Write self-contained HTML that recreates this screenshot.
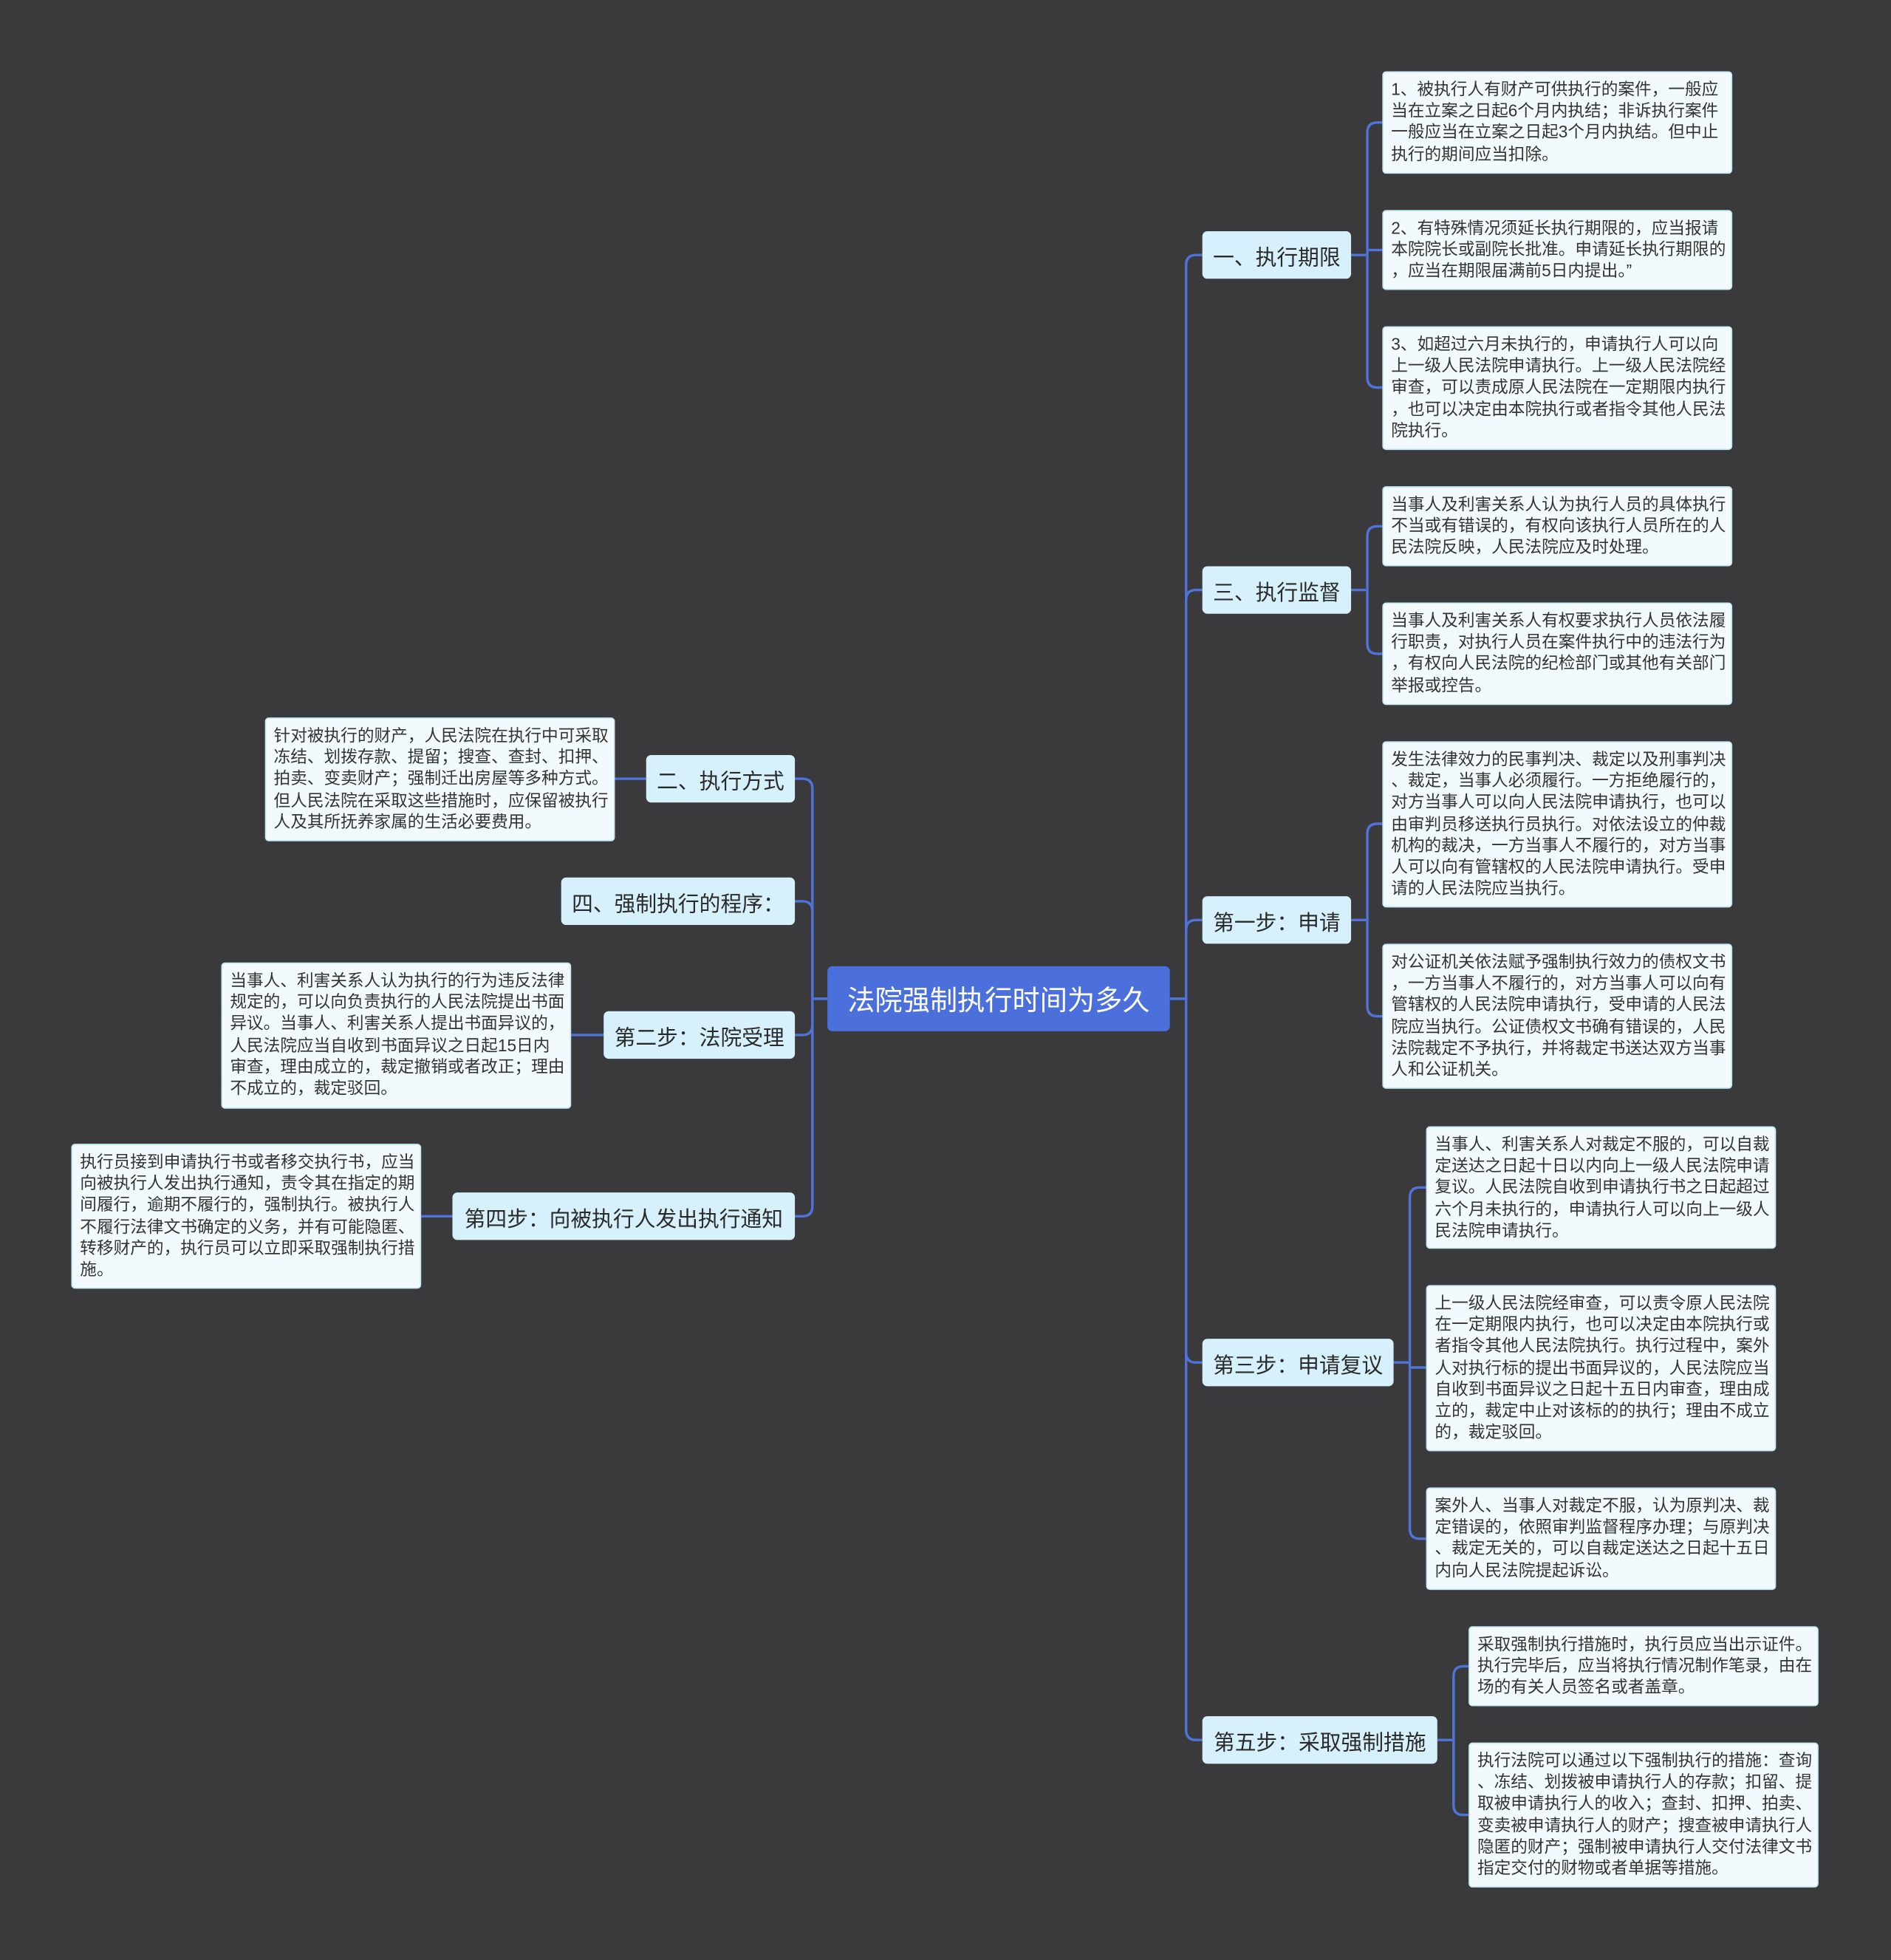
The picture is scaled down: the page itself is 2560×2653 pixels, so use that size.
<!DOCTYPE html>
<html><head><meta charset="utf-8">
<style>
html,body{margin:0;padding:0;background:#3a3a3c;}
body{width:2560px;height:2653px;overflow:hidden;}
#w{position:absolute;left:0;top:0;width:1513px;height:1568px;transform:scale(1.69201,1.69196);transform-origin:0 0;font-family:"Liberation Sans","Noto Sans CJK SC",sans-serif;}
.n{position:absolute;background:#d6f1fb;color:#2a2a2a;font-size:17px;border-radius:4px;display:flex;align-items:center;justify-content:center;white-space:nowrap;}
.l{position:absolute;background:#f3fafd;border:1px solid #c4e8f5;color:#333;font-size:13.4px;line-height:17.2px;border-radius:3px;padding:5px 6px;box-sizing:border-box;white-space:nowrap;overflow:hidden;}
.r{position:absolute;left:662px;top:773px;width:274px;height:52px;background:#4b70dc;color:#fff;font-size:22px;border-radius:4px;display:flex;align-items:center;justify-content:center;}
svg{position:absolute;left:0;top:0;}
</style></head><body><div id="w">
<svg width="1513" height="1568"><path fill="none" stroke="#4f73d8" stroke-width="2" d="
M936 799 H949
M949 799 V212 Q949 204 957 204 H962
M949 799 V480 Q949 472 957 472 H962
M949 799 V744 Q949 736 957 736 H962
M949 799 V1082 Q949 1090 957 1090 H962
M949 799 V1384 Q949 1392 957 1392 H962
M662 799 H650
M650 799 V631 Q650 623 642 623 H636
M650 799 V729 Q650 721 642 721 H636
M650 799 V820 Q650 828 642 828 H636
M650 799 V965 Q650 973 642 973 H636
M1081 204 H1094
M1094 204 V106 Q1094 98 1102 98 H1106
M1094 204 V200 H1106
M1094 204 V302 Q1094 310 1102 310 H1106
M1081 472 H1094
M1094 472 V429 Q1094 421 1102 421 H1106
M1094 472 V515 Q1094 523 1102 523 H1106
M1081 736 H1094
M1094 736 V667 Q1094 659 1102 659 H1106
M1094 736 V805 Q1094 813 1102 813 H1106
M1115 1090 H1128
M1128 1090 V958 Q1128 950 1136 950 H1141
M1128 1090 V1094 H1141
M1128 1090 V1223 Q1128 1231 1136 1231 H1141
M1150 1392 H1163
M1163 1392 V1341 Q1163 1333 1171 1333 H1175
M1163 1392 V1444 Q1163 1452 1171 1452 H1175
M517 623 H492
M483 828 H457
M362 973 H337
"/></svg>
<div class="r">法院强制执行时间为多久</div>
<div class="n" style="left:962px;top:185px;width:119px;height:38px">一、执行期限</div>
<div class="n" style="left:962px;top:453px;width:119px;height:38px">三、执行监督</div>
<div class="n" style="left:962px;top:717px;width:119px;height:38px">第一步：申请</div>
<div class="n" style="left:962px;top:1071px;width:153px;height:38px">第三步：申请复议</div>
<div class="n" style="left:962px;top:1373px;width:188px;height:38px">第五步：采取强制措施</div>
<div class="n" style="left:517px;top:604px;width:119px;height:38px">二、执行方式</div>
<div class="n" style="left:449px;top:702px;width:187px;height:38px">四、强制执行的程序：</div>
<div class="n" style="left:483px;top:809px;width:153px;height:38px">第二步：法院受理</div>
<div class="n" style="left:362px;top:954px;width:274px;height:38px">第四步：向被执行人发出执行通知</div>

<div class="l" style="left:1106px;top:57px;width:280px;height:82px">1、被执行人有财产可供执行的案件，一般应<br>当在立案之日起6个月内执结；非诉执行案件<br>一般应当在立案之日起3个月内执结。但中止<br>执行的期间应当扣除。</div>
<div class="l" style="left:1106px;top:168px;width:280px;height:64px">2、有特殊情况须延长执行期限的，应当报请<br>本院院长或副院长批准。申请延长执行期限的<br>，应当在期限届满前5日内提出。”</div>
<div class="l" style="left:1106px;top:261px;width:280px;height:99px">3、如超过六月未执行的，申请执行人可以向<br>上一级人民法院申请执行。上一级人民法院经<br>审查，可以责成原人民法院在一定期限内执行<br>，也可以决定由本院执行或者指令其他人民法<br>院执行。</div>
<div class="l" style="left:1106px;top:389px;width:280px;height:64px">当事人及利害关系人认为执行人员的具体执行<br>不当或有错误的，有权向该执行人员所在的人<br>民法院反映，人民法院应及时处理。</div>
<div class="l" style="left:1106px;top:482px;width:280px;height:82px">当事人及利害关系人有权要求执行人员依法履<br>行职责，对执行人员在案件执行中的违法行为<br>，有权向人民法院的纪检部门或其他有关部门<br>举报或控告。</div>
<div class="l" style="left:1106px;top:593px;width:280px;height:133px">发生法律效力的民事判决、裁定以及刑事判决<br>、裁定，当事人必须履行。一方拒绝履行的，<br>对方当事人可以向人民法院申请执行，也可以<br>由审判员移送执行员执行。对依法设立的仲裁<br>机构的裁决，一方当事人不履行的，对方当事<br>人可以向有管辖权的人民法院申请执行。受申<br>请的人民法院应当执行。</div>
<div class="l" style="left:1106px;top:755px;width:280px;height:116px">对公证机关依法赋予强制执行效力的债权文书<br>，一方当事人不履行的，对方当事人可以向有<br>管辖权的人民法院申请执行，受申请的人民法<br>院应当执行。公证债权文书确有错误的，人民<br>法院裁定不予执行，并将裁定书送达双方当事<br>人和公证机关。</div>
<div class="l" style="left:1141px;top:901px;width:280px;height:98px">当事人、利害关系人对裁定不服的，可以自裁<br>定送达之日起十日以内向上一级人民法院申请<br>复议。人民法院自收到申请执行书之日起超过<br>六个月未执行的，申请执行人可以向上一级人<br>民法院申请执行。</div>
<div class="l" style="left:1141px;top:1028px;width:280px;height:133px">上一级人民法院经审查，可以责令原人民法院<br>在一定期限内执行，也可以决定由本院执行或<br>者指令其他人民法院执行。执行过程中，案外<br>人对执行标的提出书面异议的，人民法院应当<br>自收到书面异议之日起十五日内审查，理由成<br>立的，裁定中止对该标的的执行；理由不成立<br>的，裁定驳回。</div>
<div class="l" style="left:1141px;top:1190px;width:280px;height:82px">案外人、当事人对裁定不服，认为原判决、裁<br>定错误的，依照审判监督程序办理；与原判决<br>、裁定无关的，可以自裁定送达之日起十五日<br>内向人民法院提起诉讼。</div>
<div class="l" style="left:1175px;top:1301px;width:280px;height:64px">采取强制执行措施时，执行员应当出示证件。<br>执行完毕后，应当将执行情况制作笔录，由在<br>场的有关人员签名或者盖章。</div>
<div class="l" style="left:1175px;top:1394px;width:280px;height:116px">执行法院可以通过以下强制执行的措施：查询<br>、冻结、划拨被申请执行人的存款；扣留、提<br>取被申请执行人的收入；查封、扣押、拍卖、<br>变卖被申请执行人的财产；搜查被申请执行人<br>隐匿的财产；强制被申请执行人交付法律文书<br>指定交付的财物或者单据等措施。</div>
<div class="l" style="left:212px;top:574px;width:280px;height:99px">针对被执行的财产，人民法院在执行中可采取<br>冻结、划拨存款、提留；搜查、查封、扣押、<br>拍卖、变卖财产；强制迁出房屋等多种方式。<br>但人民法院在采取这些措施时，应保留被执行<br>人及其所抚养家属的生活必要费用。</div>
<div class="l" style="left:177px;top:770px;width:280px;height:117px">当事人、利害关系人认为执行的行为违反法律<br>规定的，可以向负责执行的人民法院提出书面<br>异议。当事人、利害关系人提出书面异议的，<br>人民法院应当自收到书面异议之日起15日内<br>审查，理由成立的，裁定撤销或者改正；理由<br>不成立的，裁定驳回。</div>
<div class="l" style="left:57px;top:915px;width:280px;height:116px">执行员接到申请执行书或者移交执行书，应当<br>向被执行人发出执行通知，责令其在指定的期<br>间履行，逾期不履行的，强制执行。被执行人<br>不履行法律文书确定的义务，并有可能隐匿、<br>转移财产的，执行员可以立即采取强制执行措<br>施。</div>
</div></body></html>
